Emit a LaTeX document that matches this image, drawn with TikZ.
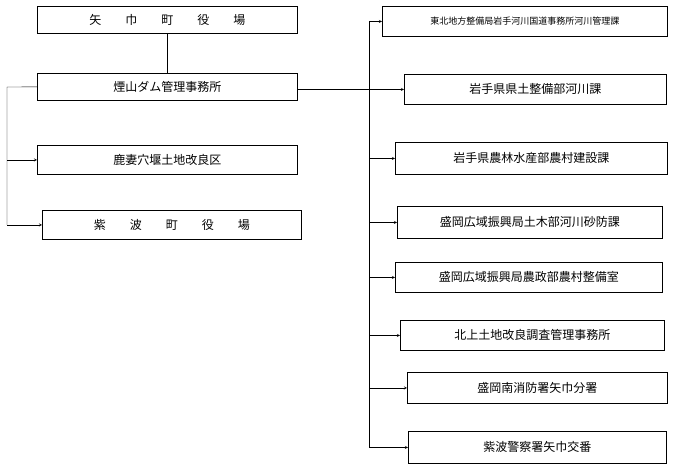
\documentclass[tikz,border=0pt]{standalone}
\usepackage{fontspec}
\setmainfont{Noto Sans CJK JP}
\usetikzlibrary{positioning,calc}
\tikzset{box/.style={draw,thick,inner sep=0pt,anchor=north west},arr/.style={->,>=stealth}}

\begin{document}
\begin{tikzpicture}[x=1pt,y=-1pt,font=\fontsize{12}{14}\selectfont]
          \useasboundingbox (0,0) rectangle (673,468);
          % left side
          \node (yahaba) [box,minimum width=260pt,minimum height=27pt] at (37,6) {矢\qquad 巾\qquad 町\qquad 役\qquad 場};
          \node (dam) [box,minimum width=260pt,minimum height=27pt] at (37,73) {煙山ダム管理事務所};
          \node (kazuma) [box,minimum width=260pt,minimum height=29pt] at (37,145) {鹿妻穴堰土地改良区};
          \node (shiwa) [box,minimum width=259pt,minimum height=29pt] at (42,210) {紫\qquad 波\qquad 町\qquad 役\qquad 場};
          \draw (yahaba) -- (dam);
          \coordinate (lft) at (7,87);
          \draw (dam.west) -- (lft) -- (lft |- shiwa.west);
          \foreach \n in {kazuma,shiwa}
          {\draw[arr] (lft |- \n.west) -- (\n.west);}

          % right side
          \foreach \i/\x/\y/\w/\h/\t in {
            1/382/6/285/30/{\fontsize{9}{11}\selectfont 東北地方整備局岩手河川国道事務所河川管理課},
            2/404/74/262/30/岩手県県土整備部河川課,
            3/395/142/272/32/岩手県農林水産部農村建設課,
            4/397/206/265/32/盛岡広域振興局土木部河川砂防課,
            5/395/262/267/30/盛岡広域振興局農政部農村整備室,
            6/400/320/264/30/北上土地改良調査管理事務所,
            7/407/372/260/31/盛岡南消防署矢巾分署,
            8/408/431/258/32/紫波警察署矢巾交番}
          {\node (r\i) [box,minimum width=\w pt,minimum height=\h pt] at (\x,\y) {\t};}
          \coordinate (bus) at (369,21);
          \draw (bus) -- (bus |- r8.west);
          \draw[arr] (dam.east |- r2.west) -- (r2.west);
          \foreach \i in {1,3,4,5,6,7,8}
          {\draw[arr] (bus |- r\i.west) -- (r\i.west);}
        \end{tikzpicture}
\end{document}
